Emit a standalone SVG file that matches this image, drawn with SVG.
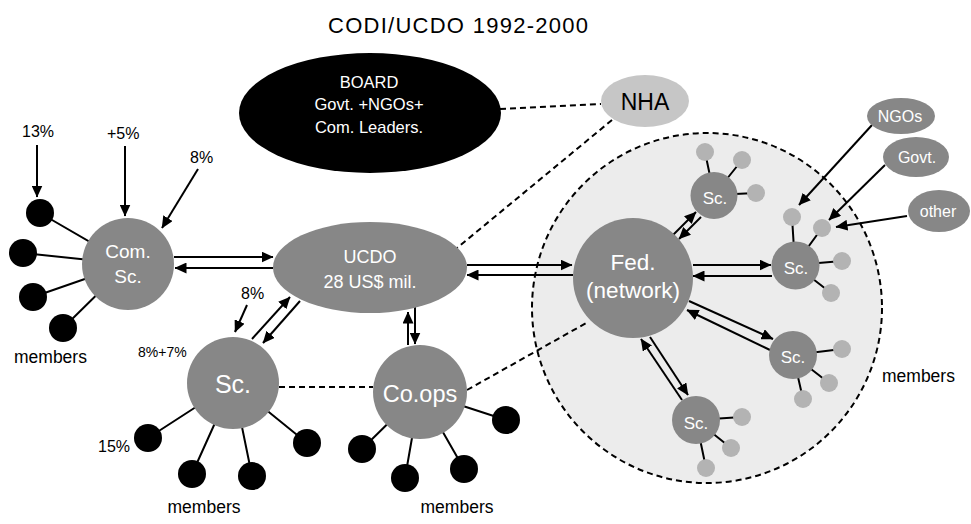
<svg xmlns="http://www.w3.org/2000/svg" width="971" height="524" viewBox="0 0 971 524">
<defs>
<marker id="ah" viewBox="0 0 12 11" refX="11.5" refY="5.5" markerWidth="12" markerHeight="11" markerUnits="userSpaceOnUse" orient="auto"><path d="M0,0 L12,5.5 L0,11 z" fill="#000"/></marker>
<style>
text{font-family:"Liberation Sans",Arial,sans-serif}
.node{fill:#878787}
.mem{fill:#000}
.sm{fill:#b3b3b3}
.wt{fill:#fff;text-anchor:middle}
.bt{fill:#000}
.spoke{stroke:#000;stroke-width:2;fill:none}
.arr{stroke:#000;stroke-width:2;fill:none;marker-end:url(#ah)}
.dash{stroke:#000;stroke-width:2;fill:none;stroke-dasharray:6 4}
</style>
</defs>
<rect width="971" height="524" fill="#fff"/>
<text x="328" y="33" font-size="22" textLength="260" class="bt">CODI/UCDO 1992-2000</text>

<g id="network-area"><circle cx="707" cy="308" r="175" fill="#ececec" stroke="#000" stroke-width="2" stroke-dasharray="6 4"/></g>

<g id="connectors">
<!-- spokes -->
<path class="spoke" d="M128,264L40,213M128,264L23,253M128,264L33,297M128,264L63,328"/>
<path class="spoke" d="M233,383L148,438M233,383L192,474M233,383L252,476M233,383L307,443"/>
<path class="spoke" d="M420,392L362,449M420,392L405,478M420,392L464,469M420,392L506,420"/>
<path class="spoke" d="M714,195L705,152M714,195L742,160M714,195L756,193"/>
<path class="spoke" d="M795,265L792,217M795,265L822,228M795,265L842,261M795,265L831,293"/>
<path class="spoke" d="M793,355L842,349M793,355L829,383M793,355L803,399"/>
<path class="spoke" d="M696,420L742,417M696,420L731,448M696,420L706,468"/>
<!-- dashed -->
<path class="dash" d="M500,109L601,104"/>
<path class="dash" d="M612,120L457,248"/>
<path class="dash" d="M279,387L373,387"/>
<path class="dash" d="M467,390L588,322"/>
<!-- percent arrows -->
<path class="arr" d="M37,145L37,197"/>
<path class="arr" d="M125,146L125,216"/>
<path class="arr" d="M198,169L162,228"/>
<path class="arr" d="M247,305L235,332"/>
<!-- Com.Sc <-> UCDO -->
<path class="arr" d="M174,257L273,257"/>
<path class="arr" d="M273,268L175,268"/>
<!-- Sc <-> UCDO -->
<path class="arr" d="M252,339L290,297"/>
<path class="arr" d="M300,301L263,343"/>
<!-- Co.ops <-> UCDO -->
<path class="arr" d="M408,345L408,312"/>
<path class="arr" d="M415,307L415,344"/>
<!-- UCDO <-> Fed -->
<path class="arr" d="M467,265L572,265"/>
<path class="arr" d="M573,275L467,275"/>
<!-- Fed <-> Sc -->
<path class="arr" d="M673,235L696,212"/>
<path class="arr" d="M701,217L679,239"/>
<path class="arr" d="M693,265L771,265"/>
<path class="arr" d="M772,276L693,276"/>
<path class="arr" d="M689,301L773,339"/>
<path class="arr" d="M770,350L687,310"/>
<path class="arr" d="M682,400L641,339"/>
<path class="arr" d="M650,337L688,395"/>
<!-- external inputs -->
<path class="arr" d="M872,125L799,205"/>
<path class="arr" d="M885,165L829,220"/>
<path class="arr" d="M907,216L836,227"/>
</g>

<g id="board"><ellipse cx="370" cy="113" rx="131" ry="60" fill="#000"/>
<text class="wt" x="369" y="88" font-size="16.5">BOARD</text>
<text class="wt" x="369" y="110" font-size="16.5">Govt. +NGOs+</text>
<text class="wt" x="369" y="133" font-size="16.5">Com. Leaders.</text></g>

<g id="nha"><ellipse cx="645" cy="101" rx="44" ry="26" fill="#c6c6c6"/>
<text x="645" y="110" font-size="23" text-anchor="middle" class="bt">NHA</text></g>

<g id="ucdo"><ellipse cx="370" cy="267.5" rx="97" ry="45.5" class="node"/>
<text class="wt" x="370" y="263" font-size="18">UCDO</text>
<text class="wt" x="370" y="288" font-size="18">28 US$ mil.</text></g>

<g id="com-sc"><circle cx="128" cy="264" r="46" class="node"/>
<text class="wt" x="128" y="258" font-size="19">Com.</text>
<text class="wt" x="128" y="283" font-size="19">Sc.</text></g>
<g id="com-sc-members">
<circle class="mem" cx="40" cy="213" r="14"/><circle class="mem" cx="23" cy="253" r="14"/><circle class="mem" cx="33" cy="297" r="14"/><circle class="mem" cx="63" cy="328" r="14"/>
<text x="14" y="363" font-size="17.5" class="bt">members</text></g>
<g id="pct-labels" font-size="16">
<text x="22" y="137" class="bt">13%</text>
<text x="107" y="139" class="bt">+5%</text>
<text x="190" y="163" class="bt">8%</text>
<text x="241" y="299" class="bt">8%</text>
<text x="138" y="357" font-size="14" class="bt">8%+7%</text>
<text x="98" y="452" class="bt">15%</text></g>

<g id="sc"><circle cx="233" cy="383" r="46" class="node"/>
<text class="wt" x="233" y="393" font-size="25">Sc.</text></g>
<g id="sc-members">
<circle class="mem" cx="148" cy="438" r="14"/><circle class="mem" cx="192" cy="474" r="14"/><circle class="mem" cx="252" cy="476" r="14"/><circle class="mem" cx="307" cy="443" r="14"/>
<text x="204" y="513" font-size="17.5" text-anchor="middle" class="bt">members</text></g>

<g id="coops"><circle cx="420" cy="392" r="47" class="node"/>
<text class="wt" x="420" y="402" font-size="23.5">Co.ops</text></g>
<g id="coops-members">
<circle class="mem" cx="362" cy="449" r="14"/><circle class="mem" cx="405" cy="478" r="14"/><circle class="mem" cx="464" cy="469" r="14"/><circle class="mem" cx="506" cy="420" r="14"/>
<text x="457" y="513" font-size="17.5" text-anchor="middle" class="bt">members</text></g>

<g id="fed"><circle cx="633" cy="278" r="60" class="node"/>
<text class="wt" x="633" y="270" font-size="22.5">Fed.</text>
<text class="wt" x="633" y="298" font-size="22.5">(network)</text></g>

<g id="sc-top"><circle class="sm" cx="705" cy="152" r="9"/><circle class="sm" cx="742" cy="160" r="9"/><circle class="sm" cx="756" cy="193" r="9"/>
<circle cx="714" cy="195.5" r="23.5" class="node"/><text class="wt" x="715" y="204" font-size="17">Sc.</text></g>
<g id="sc-right"><circle class="sm" cx="792" cy="217" r="9"/><circle class="sm" cx="822" cy="228" r="9"/><circle class="sm" cx="842" cy="261" r="9"/><circle class="sm" cx="831" cy="293" r="9"/>
<circle cx="795.5" cy="265.5" r="24" class="node"/><text class="wt" x="796" y="274" font-size="17">Sc.</text></g>
<g id="sc-lower-right"><circle class="sm" cx="842" cy="349" r="9"/><circle class="sm" cx="829" cy="383" r="9"/><circle class="sm" cx="803" cy="399" r="9"/>
<circle cx="793" cy="355" r="24" class="node"/><text class="wt" x="793" y="363" font-size="17">Sc.</text></g>
<g id="sc-bottom"><circle class="sm" cx="742" cy="417" r="9"/><circle class="sm" cx="731" cy="448" r="9"/><circle class="sm" cx="706" cy="468" r="9"/>
<circle cx="696" cy="420" r="24" class="node"/><text class="wt" x="696" y="429" font-size="17">Sc.</text></g>
<text x="882" y="382" font-size="17.5" class="bt">members</text>

<g id="ngos"><ellipse cx="901" cy="116" rx="34" ry="18" class="node"/><text class="wt" x="900" y="122" font-size="16">NGOs</text></g>
<g id="govt"><ellipse cx="916" cy="157" rx="33" ry="20" class="node"/><text class="wt" x="917" y="163" font-size="16">Govt.</text></g>
<g id="other"><ellipse cx="939" cy="211" rx="31" ry="21" class="node"/><text class="wt" x="938" y="217" font-size="16">other</text></g>
</svg>
